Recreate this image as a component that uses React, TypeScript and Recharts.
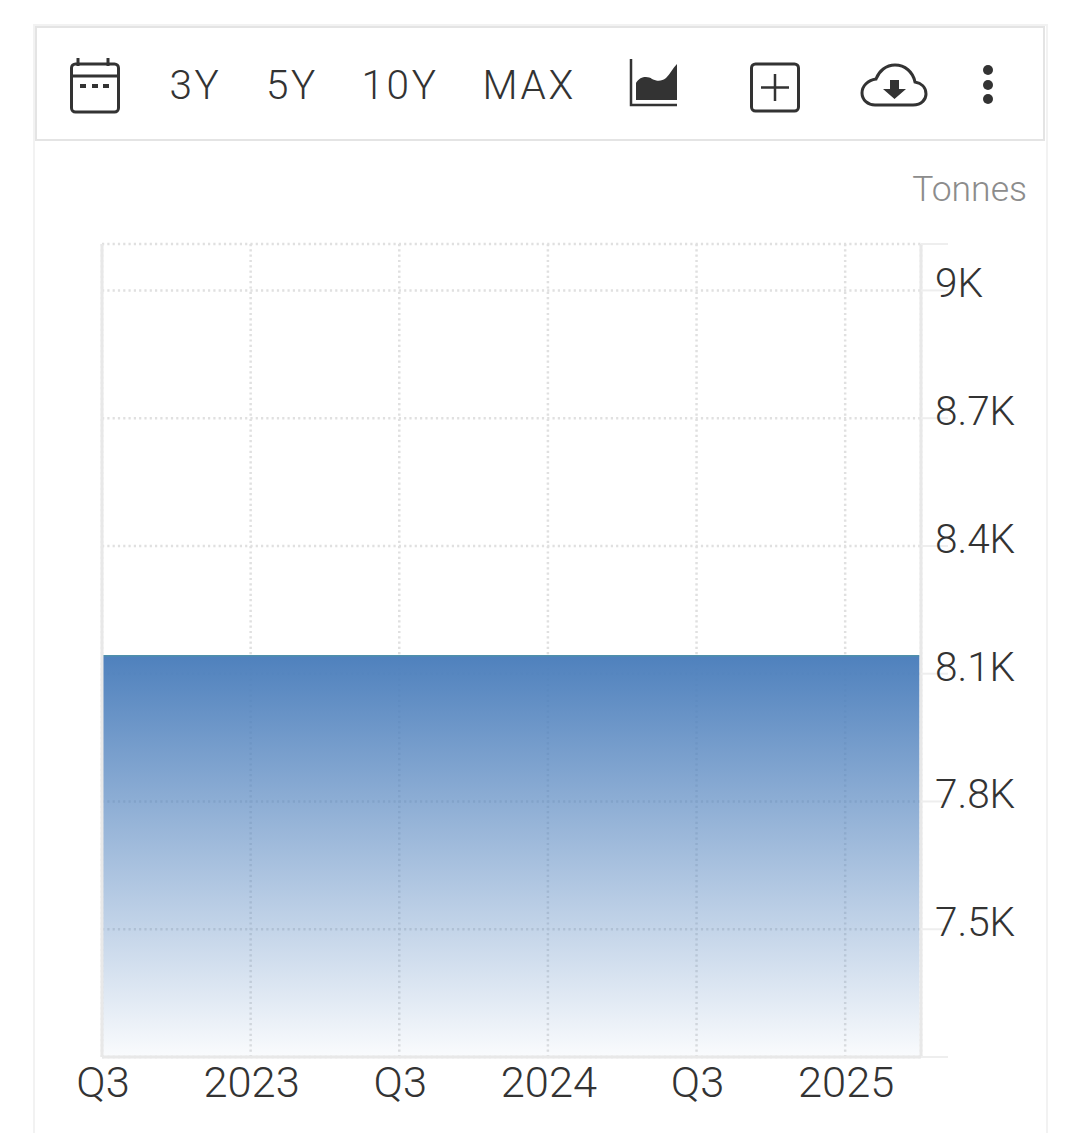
import React from "react";
import { AreaChart, Area, XAxis, YAxis, CartesianGrid, ReferenceLine } from "recharts";

const quarters = ["2022Q3","2022Q4","2023Q1","2023Q2","2023Q3","2023Q4","2024Q1","2024Q2","2024Q3","2024Q4","2025Q1","2025Q2"];
const tonnes = [8142,8142,8142,8142,8142,8142,8142,8142,8142,8142,8142,8142];
const xLabels = ["Q3","","2023","","Q3","","2024","","Q3","","2025",""];
const yTicks = [7200,7500,7800,8100,8400,8700,9000,9109];
const yLabels = ["","7.5K","7.8K","8.1K","8.4K","8.7K","9K",""];
const periodButtons = ["3Y","5Y","10Y","MAX"];
const unit = "Tonnes";

const rows = quarters.map((q, i) => ({ q, label: xLabels[i], v: tonnes[i] }));
const FONT = "Roboto, sans-serif";
const INK = "#333333";
const AXIS = "#e8e8e8";

const XTick = (p: any) => (
  <text x={p.x + 1} y={p.y + 32} textAnchor="middle" fontFamily={FONT} fontWeight={300} fontSize={43.4} fill={INK}>
    {xLabels[quarters.indexOf(p.payload.value)]}
  </text>
);
const YTick = (p: any) => (
  <text x={p.x - 15} y={p.y + 7} textAnchor="start" fontFamily={FONT} fontWeight={300} fontSize={40.5} fill={INK}>
    {yLabels[yTicks.indexOf(p.payload.value)]}
  </text>
);

const btnX = [169.5, 266, 361.5, 482.5];

const Toolbar = () => (
  <svg width={1080} height={150} style={{ position: "absolute", left: 0, top: 0 }}>
    <rect x={36} y={27} width={1008} height={113} fill="#fff" stroke="#e4e4e4" strokeWidth={2} />
    <g fill="none" stroke={INK} strokeWidth={3}>
      <rect x={71.5} y={64} width={47} height={48} rx={4} />
      <path d="M72 76H118M78 58V66M108 58V66" />
    </g>
    <g fill={INK}>
      <rect x={80} y={84} width={6} height={4} />
      <rect x={92} y={84} width={6} height={4} />
      <rect x={103} y={84} width={6} height={4} />
    </g>
    {periodButtons.map((b, i) => (
      <text key={b} x={btnX[i]} y={99} fontFamily={FONT} fontWeight={300} fontSize={40.5} letterSpacing={2.6} fill={INK}>{b}</text>
    ))}
    <path d="M631 59V105H677" fill="none" stroke={INK} strokeWidth={2.5} />
    <path d="M636 100V83C640 76 648 76 652 79C658 82 662 81 666 78C670 74 673 68 677 64V100Z" fill={INK} />
    <rect x={751.5} y={64} width={47} height={47} rx={4} fill="none" stroke={INK} strokeWidth={3} />
    <path d="M761 87.5H789M775 74V101" fill="none" stroke={INK} strokeWidth={2.5} />
    <path d="M875 105H913C922 105 926 99 926 94C926 87 921 83 915 82C913 72 905 65 895 65C886 65 879 71 876 79C868 80 862 86 862 93C862 100 868 105 875 105Z" fill="none" stroke={INK} strokeWidth={3} />
    <path d="M890 80H899V89H906L894.5 99L883 89H890Z" fill={INK} />
    <circle cx={988} cy={70} r={5} fill={INK} />
    <circle cx={988} cy={85} r={5} fill={INK} />
    <circle cx={988} cy={99} r={5} fill={INK} />
  </svg>
);

export default function App() {
  return (
    <div style={{ position: "absolute", left: 0, top: 0, width: 1080, height: 1133, overflow: "hidden", background: "#fff" }}>
      <div style={{ position: "absolute", left: 33, top: 24, width: 1011, height: 1109, borderLeft: "2px solid #f2f2f2", borderRight: "2px solid #f2f2f2", borderTop: "2px solid #f2f2f2" }} />
      <Toolbar />
      <div style={{ position: "absolute", right: 53, top: 168.5, fontFamily: FONT, fontSize: 35.5, fontWeight: 300, color: "#8c8c8c", lineHeight: "40px" }}>{unit}</div>
      <div style={{ position: "absolute", left: 0, top: 0 }}>
        <AreaChart width={1080} height={1133} data={rows} margin={{ top: 244, left: 102, right: 0, bottom: 0 }}>
          <defs>
            <linearGradient id="fillBlue" x1="0" y1="0" x2="0" y2="1">
              <stop offset="0%" stopColor="#4f81bd" stopOpacity={1} />
              <stop offset="100%" stopColor="#4f81bd" stopOpacity={0.03} />
            </linearGradient>
          </defs>
          <CartesianGrid stroke="#e0e0e0" strokeWidth={2.5} strokeDasharray="2.2 3.1" />
          <XAxis dataKey="q" type="category" scale="point" padding={{ left: 0, right: 1.5 }} interval={1} height={76} tick={<XTick />} tickLine={false} axisLine={{ stroke: AXIS, strokeWidth: 3 }} />
          <YAxis orientation="right" type="number" domain={[7200, 9109]} ticks={yTicks} width={159} interval={0} tick={<YTick />} tickSize={27} tickLine={{ stroke: "#eeeeee", strokeWidth: 2 }} axisLine={{ stroke: AXIS, strokeWidth: 3 }} />
          <Area type="linear" dataKey="v" stroke="#4f90ab" strokeWidth={1.5} fill="url(#fillBlue)" fillOpacity={1} isAnimationActive={false} dot={false} activeDot={false} />
          <ReferenceLine x={quarters[0]} stroke={AXIS} strokeWidth={3} />
        </AreaChart>
      </div>
    </div>
  );
}
